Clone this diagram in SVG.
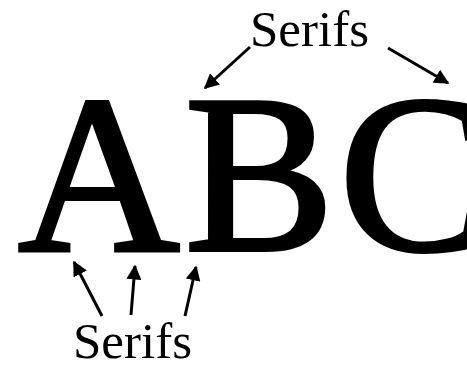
<svg xmlns="http://www.w3.org/2000/svg" width="467" height="368" viewBox="0 0 467 368">
<defs>
<marker id="ah" viewBox="0 0 10 10" refX="9" refY="5" markerWidth="5" markerHeight="5" markerUnits="strokeWidth" orient="auto">
<path d="M0,0 L10,5 L0,10 z" fill="#000"/>
</marker>
<style>
.lbl{font-family:"Liberation Serif","Times New Roman",serif;font-size:51px;fill:#000}
.big{font-family:"Liberation Serif","Times New Roman",serif;font-size:224px;letter-spacing:5px;fill:#000;stroke:#000;stroke-width:4;stroke-linejoin:miter}
.arr{stroke:#000;stroke-width:3;fill:none;marker-end:url(#ah)}
</style>
</defs>
<rect width="467" height="368" fill="#fff"/>
<g id="letters"><text class="big" x="18" y="250">ABC</text></g>
<g id="label-top"><text class="lbl" x="250" y="46">Serifs</text></g>
<g id="label-bottom"><text class="lbl" x="73" y="358">Serifs</text></g>
<g id="connectors">
<line class="arr" x1="250" y1="47" x2="205" y2="88"/>
<line class="arr" x1="388" y1="48" x2="448" y2="83"/>
<line class="arr" x1="102" y1="316" x2="74" y2="262"/>
<line class="arr" x1="131" y1="315" x2="135" y2="266"/>
<line class="arr" x1="185" y1="316" x2="196" y2="267"/>
</g>
</svg>
